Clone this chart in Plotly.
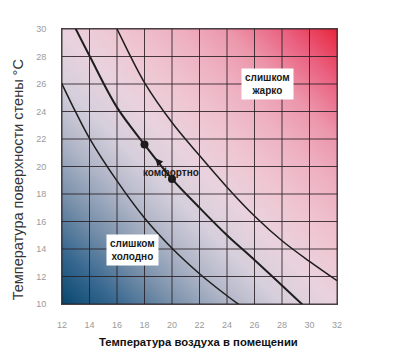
import numpy as np
import plotly.graph_objects as go

# ---- data ----
x_ticks = [12, 14, 16, 18, 20, 22, 24, 26, 28, 30, 32]
y_ticks = [10, 12, 14, 16, 18, 20, 22, 24, 26, 28, 30]

cold_x = [11.5, 12, 13, 14, 16, 18, 20, 22, 24, 25.3]
cold_y = [27.05, 26, 23.95, 22.05, 18.95, 16.25, 14.05, 12.2, 10.6, 9.65]

comfort_x = [12.5, 14, 16, 18, 20, 22, 24, 26, 28, 29.6]
comfort_y = [31, 28.05, 24.3, 21.6, 19.1, 17.0, 15.0, 13.2, 11.35, 9.85]

hot_x = [15.5, 16, 18, 20, 22, 24, 26, 28, 30, 32]
hot_y = [31, 30, 26.1, 23.2, 20.8, 18.5, 16.4, 14.6, 13.1, 11.7]

points_x = [18, 20]
points_y = [21.6, 19.1]

label_hot = "слишком<br>жарко"
label_cold = "слишком<br>холодно"
label_ok = "комфортно"
x_title = "Температура воздуха в помещении"
y_title = "Температура поверхности стены °C"

# ---- background gradient (styling only) ----
gx = np.linspace(11, 33, 60)
gy = np.linspace(9, 31, 60)
GX, GY = np.meshgrid(gx, gy)
GZ = ((GX - 12) + (GY - 10)) / 40.0
cscale = [
    [0.00, "#08476f"],
    [0.10, "#386890"],
    [0.20, "#7890aa"],
    [0.30, "#aeb4c6"],
    [0.40, "#d6cfdc"],
    [0.50, "#e9d2dd"],
    [0.60, "#efc5d1"],
    [0.70, "#eeb2c2"],
    [0.80, "#ec96ab"],
    [0.90, "#ea6180"],
    [1.00, "#e8263e"],
]

fig = go.Figure()
fig.add_trace(go.Heatmap(x=gx, y=gy, z=GZ, colorscale=cscale, zmin=0, zmax=1,
                         zsmooth="best", showscale=False, hoverinfo="skip"))

line_col = "#1e1e1e"
fig.add_trace(go.Scatter(x=cold_x, y=cold_y, mode="lines",
                         line=dict(color=line_col, width=1.5, shape="spline"), showlegend=False))
fig.add_trace(go.Scatter(x=comfort_x, y=comfort_y, mode="lines",
                         line=dict(color=line_col, width=2, shape="spline"), showlegend=False))
fig.add_trace(go.Scatter(x=hot_x, y=hot_y, mode="lines",
                         line=dict(color=line_col, width=1.5, shape="spline"), showlegend=False))
fig.add_trace(go.Scatter(x=points_x, y=points_y, mode="markers",
                         marker=dict(color="#1a1a1a", size=8), showlegend=False))

# grid lines as shapes (drawn above the gradient)
shapes = []
grid_col = "rgba(40,30,35,0.85)"
for xv in x_ticks:
    shapes.append(dict(type="line", xref="x", yref="y", x0=xv, x1=xv, y0=10, y1=30,
                       line=dict(color=grid_col, width=1), layer="above"))
for yv in y_ticks:
    shapes.append(dict(type="line", xref="x", yref="y", x0=12, x1=32, y0=yv, y1=yv,
                       line=dict(color=grid_col, width=1), layer="above"))

font_lbl = dict(family="Liberation Sans, Arial", size=10, color="#1a1a1a")
annotations = [
    dict(x=26.98, y=26.0, xref="x", yref="y", text="<b>" + label_hot.replace("<br>", "</b><br><b>") + "</b>",
         showarrow=False, bgcolor="white", borderpad=3, font=font_lbl),
    dict(x=17.1, y=13.93, xref="x", yref="y", text="<b>" + label_cold.replace("<br>", "</b><br><b>") + "</b>",
         showarrow=False, bgcolor="white", borderpad=3, font=font_lbl),
    dict(x=19.93, y=19.6, xref="x", yref="y", text="<b>" + label_ok + "</b>",
         showarrow=False, font=font_lbl),
    dict(x=18.8, y=20.6, ax=19.05, ay=20.3, xref="x", yref="y", axref="x", ayref="y",
         text="", showarrow=True, arrowhead=2, arrowsize=1, arrowwidth=1.5, arrowcolor="#1a1a1a"),
    dict(x=0.498, y=-0.138, xref="paper", yref="paper", text="<b>" + x_title + "</b>",
         showarrow=False, font=dict(family="Liberation Sans, Arial", size=11.3, color="#111"),
         xanchor="center", yanchor="middle"),
    dict(x=-0.16, y=0.45, xref="paper", yref="paper", text=y_title, textangle=-90,
         showarrow=False, font=dict(family="Liberation Sans, Arial", size=14.5, color="#333"),
         xanchor="center", yanchor="middle"),
]

tick_font = dict(family="Liberation Sans, Arial", size=9, color="#9a9a9a")
fig.update_layout(
    width=399, height=352,
    margin=dict(l=62, r=62, t=29, b=48),
    paper_bgcolor="white", plot_bgcolor="white",
    shapes=shapes, annotations=annotations,
    xaxis=dict(range=[12, 32], tickvals=x_ticks, showgrid=False, zeroline=False,
               ticks="outside", ticklen=12, tickcolor="rgba(0,0,0,0)", tickfont=tick_font,
               showline=True, linecolor=grid_col, mirror=True, fixedrange=True),
    yaxis=dict(range=[10, 30], tickvals=y_ticks, showgrid=False, zeroline=False,
               ticks="outside", ticklen=13, tickcolor="rgba(0,0,0,0)", tickfont=tick_font,
               showline=True, linecolor=grid_col, mirror=True, fixedrange=True),
)

fig.write_html("out.html")
